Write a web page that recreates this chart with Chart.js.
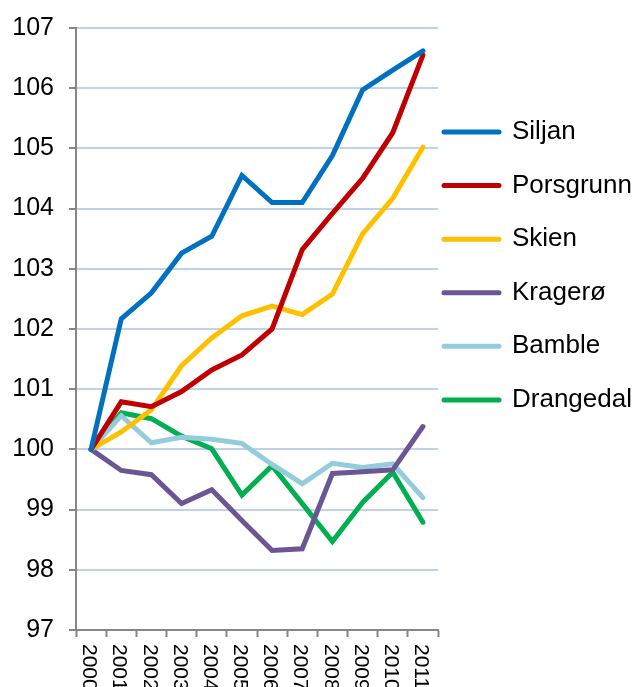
<!DOCTYPE html>
<html>
<head>
<meta charset="utf-8">
<script src="https://cdn.jsdelivr.net/npm/chart.js@4"></script>
<style>
  body { margin: 0; background: #fff; }
  #wrap { width: 636px; height: 687px; }
</style>
</head>
<body>
<div id="wrap"><canvas id="grafico" width="636" height="687"></canvas></div>
<script>
// Datos (indice 2000 = 100)
const years = ["2000", "2001", "2002", "2003", "2004", "2005", "2006", "2007", "2008", "2009", "2010", "2011"];
const siljan    = [100, 102.17, 102.6, 103.26, 103.54, 104.55, 104.1, 104.1, 104.88, 105.97, 106.3, 106.62];
const porsgrunn = [100, 100.79, 100.71, 100.96, 101.32, 101.57, 102.0, 103.32, 103.92, 104.5, 105.26, 106.55];
const skien     = [100, 100.29, 100.66, 101.39, 101.85, 102.22, 102.38, 102.24, 102.58, 103.58, 104.17, 105.02];
const kragero   = [100, 99.65, 99.58, 99.1, 99.33, 98.82, 98.32, 98.35, 99.6, 99.63, 99.66, 100.38];
const bamble    = [100, 100.56, 100.11, 100.2, 100.17, 100.1, 99.75, 99.43, 99.77, 99.7, 99.76, 99.2];
const drangedal = [100, 100.61, 100.51, 100.22, 100.01, 99.24, 99.73, 99.1, 98.47, 99.12, 99.62, 98.79];
const yTicks = [97, 98, 99, 100, 101, 102, 103, 104, 105, 106, 107];

const series = [
  { label: "Siljan", data: siljan, color: "#0070c0" },
  { label: "Porsgrunn", data: porsgrunn, color: "#c00000" },
  { label: "Skien", data: skien, color: "#ffc000" },
  { label: "Kragerø", data: kragero, color: "#6b5594" },
  { label: "Bamble", data: bamble, color: "#93cddd" },
  { label: "Drangedal", data: drangedal, color: "#00b050" }
];

const FONT = "'Liberation Sans', Arial, sans-serif";

// etiquetas del eje x giradas 90 grados (de arriba hacia abajo)
const xLabelsPlugin = {
  id: "xLabels",
  afterDraw(chart) {
    const ctx = chart.ctx;
    const sx = chart.scales.x;
    ctx.save();
    ctx.font = "21px " + FONT;
    ctx.fillStyle = "#000";
    ctx.textAlign = "left";
    ctx.textBaseline = "middle";
    years.forEach((y, i) => {
      ctx.save();
      ctx.translate(sx.getPixelForValue(i) - 2, sx.top + 14);
      ctx.rotate(Math.PI / 2);
      ctx.fillText(y, 0, 0);
      ctx.restore();
    });
    ctx.restore();
  }
};

new Chart(document.getElementById("grafico"), {
  type: "line",
  data: {
    labels: years,
    datasets: series.map(s => ({
      label: s.label,
      data: s.data,
      borderColor: s.color,
      backgroundColor: s.color,
      borderWidth: 5,
      pointRadius: 0,
      tension: 0,
      borderCapStyle: "round",
      borderJoinStyle: "miter"
    }))
  },
  options: {
    responsive: false,
    animation: false,
    layout: { padding: { top: 7, left: 10, right: 4, bottom: 0 } },
    plugins: {
      tooltip: { enabled: false },
      legend: {
        position: "right",
        align: "start",
        maxWidth: 194,
        // titulo vacio solo para bajar la leyenda
        title: { display: true, text: "", font: { size: 10, lineHeight: 1 }, padding: { top: 96, bottom: 0 } },
        labels: {
          color: "#000",
          font: { family: FONT, size: 26, lineHeight: 1.83 },
          boxWidth: 55,
          boxHeight: 5,
          padding: 6,
          usePointStyle: true,
          pointStyleWidth: 55,
          generateLabels(chart) {
            return chart.data.datasets.map((d, i) => ({
              text: [d.label],
              fontColor: "#000",
              fillStyle: d.borderColor,
              strokeStyle: d.borderColor,
              lineWidth: 5,
              lineCap: "round",
              pointStyle: "line",
              datasetIndex: i
            }));
          }
        }
      }
    },
    scales: {
      x: {
        offset: true,
        grid: {
          offset: true,
          drawOnChartArea: false,
          drawTicks: true,
          tickLength: 7,
          tickColor: "#868686",
          tickWidth: 2
        },
        border: { color: "#868686", width: 2 },
        ticks: { display: false },
        afterFit(scale) { scale.height = 57; }
      },
      y: {
        min: 97,
        max: 107,
        afterBuildTicks(scale) { scale.ticks = yTicks.map(v => ({ value: v })); },
        afterFit(scale) { scale.width = 66; },
        grid: {
          color: "#bfd2e9",
          lineWidth: 2,
          tickLength: 7,
          tickColor: "#868686",
          tickWidth: 2
        },
        border: { color: "#868686", width: 2 },
        ticks: {
          color: "#000",
          font: { family: FONT, size: 25, lineHeight: 1.04 },
          padding: 15
        }
      }
    }
  },
  plugins: [xLabelsPlugin]
});
</script>
</body>
</html>
